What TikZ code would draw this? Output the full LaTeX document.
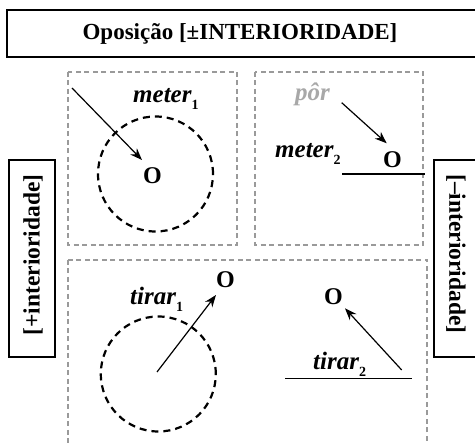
\documentclass[tikz,border=0pt]{standalone}
\usepackage{fontspec}
\setmainfont{Liberation Serif}
\usetikzlibrary{arrows.meta}
\newcommand\mysub[1]{\raisebox{-0.55ex}{\fontsize{14}{14}\selectfont\bfseries\upshape #1}}
\definecolor{dashgray}{HTML}{9A9A9A}
\definecolor{porgray}{HTML}{A8A8A8}
\begin{document}
\begin{tikzpicture}[x=1pt,y=-1pt,
  dbox/.style={draw=dashgray, dash pattern=on 5pt off 3.5pt, line width=1.3pt},
  ring/.style={draw=black, dash pattern=on 7pt off 5pt, line width=2.2pt},
  frame/.style={draw=black, line width=1.1pt},
  lbl/.style={font=\fontsize{23.5}{26}\selectfont\bfseries, inner sep=0pt},
  ttl/.style={font=\fontsize{23}{26}\selectfont\bfseries, inner sep=0pt},
  word/.style={font=\fontsize{25}{28}\selectfont\bfseries\itshape, anchor=base west, inner sep=0pt},
  obj/.style={font=\fontsize{24}{28}\selectfont\bfseries, inner sep=0pt},
  arr/.style={-{Stealth[length=12pt,width=9pt]}, line width=1.2pt},
  ground/.style={line width=1.2pt}]
\useasboundingbox (0,0) rectangle (475,443);
% title
\draw[frame] (7,10) rectangle (480,57);
\node[ttl] (title) at (240,34) {Oposição [±INTERIORIDADE]};
% side labels
\draw[frame] (9,160) rectangle (55,357);
\node[lbl, rotate=90] (lplus) at (33,255) {[+interioridade]};
\draw[frame] (434,160) rectangle (480,357);
\node[lbl, rotate=-90] (lminus) at (456,254) {[–interioridade]};
% dashed boxes
\draw[dbox] (68,72) rectangle (237,245);
\draw[dbox] (255,72) rectangle (423,245);
\draw[dbox] (68,260) rectangle (427,460);
% meter1
\draw[ring] (155.5,174) circle[radius=57.5pt];
\node[obj] (o1) at (152.5,175.5) {O};
\node[word] (meter1) at (133,103) {meter\mysub{1}};
\coordinate (m1s) at (72,88);
\coordinate (m1e) at (142,160);
\draw[arr] (m1s) -- (m1e);
% meter2
\node[word, text=porgray] (por) at (295,101) {pôr};
\node[word] (meter2) at (275,158) {meter\mysub{2}};
\node[obj] (o2) at (392.5,159.5) {O};
\coordinate (m2s) at (341.7,102.7);
\coordinate (m2e) at (386.7,143.3);
\draw[arr] (m2s) -- (m2e);
\coordinate (g1a) at (342,174);
\coordinate (g1b) at (425,174);
\draw[ground] (g1a) -- (g1b);
% tirar1
\draw[ring] (158.3,374) circle[radius=57.5pt];
\node[word] (tirar1) at (130,305) {tirar\mysub{1}};
\node[obj] (o3) at (225.5,279.5) {O};
\coordinate (t1s) at (157,372);
\coordinate (t1e) at (216,295);
\draw[arr] (t1s) -- (t1e);
% tirar2
\node[word] (tirar2) at (313,370) {tirar\mysub{2}};
\node[obj] (o4) at (333.5,296.5) {O};
\coordinate (t2s) at (401.7,370);
\coordinate (t2e) at (345,308.3);
\draw[arr] (t2s) -- (t2e);
\coordinate (g2a) at (285,378.3);
\coordinate (g2b) at (411.7,378.3);
\draw[ground] (g2a) -- (g2b);
\end{tikzpicture}
\end{document}
